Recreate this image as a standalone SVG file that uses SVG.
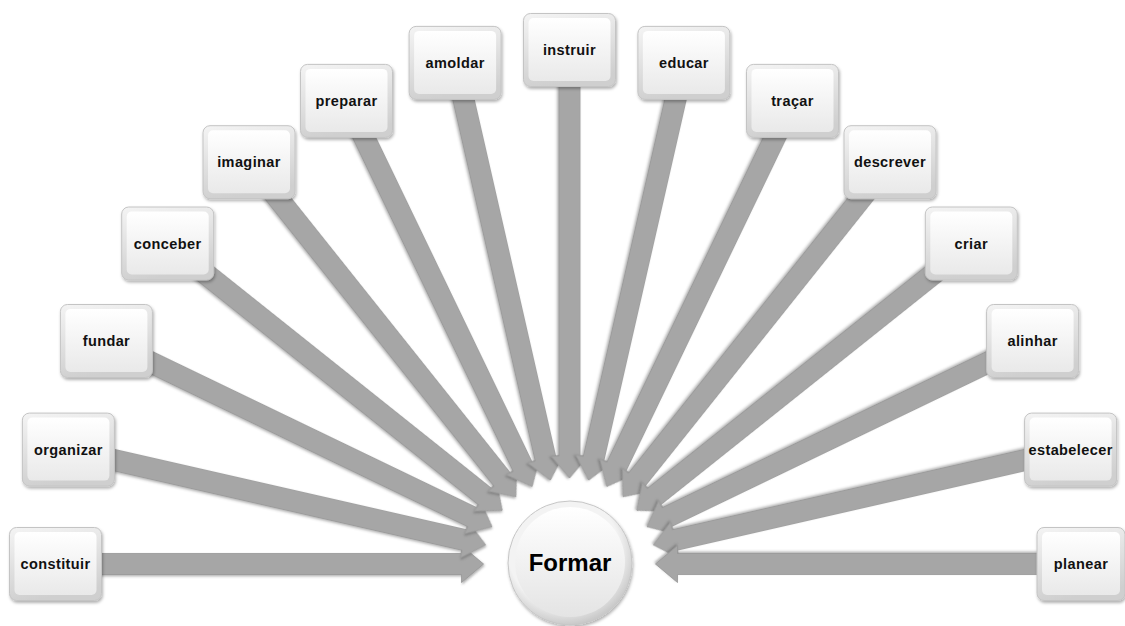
<svg xmlns="http://www.w3.org/2000/svg" width="1125" height="626" viewBox="0 0 1125 626">
<defs>
<style>
.lbl{font-family:"Liberation Sans",Arial,sans-serif;font-weight:bold;font-size:14.5px;letter-spacing:0.4px;fill:#111;text-anchor:middle}
.ttl{font-family:"Liberation Sans",Arial,sans-serif;font-weight:bold;font-size:24px;fill:#000;text-anchor:middle}
.arr{fill:#a6a6a6;stroke:#979797;stroke-width:0.8;filter:url(#ash)}
.bo{fill:url(#gOut);stroke:#c4c4c4;stroke-width:1;filter:url(#bsh)}
.bi{fill:url(#gIn)}
</style>
<linearGradient id="gOut" x1="0" y1="0" x2="0.25" y2="1">
<stop offset="0" stop-color="#f4f4f4"/><stop offset="1" stop-color="#cfcfcf"/>
</linearGradient>
<linearGradient id="gIn" x1="0" y1="0" x2="0" y2="1">
<stop offset="0" stop-color="#ffffff"/><stop offset="1" stop-color="#e9e9e9"/>
</linearGradient>
<radialGradient id="cOut" cx="0.45" cy="0.4" r="0.6">
<stop offset="0.75" stop-color="#f3f3f3"/><stop offset="1" stop-color="#c9c9c9"/>
</radialGradient>
<linearGradient id="cIn" x1="0" y1="0" x2="0" y2="1">
<stop offset="0" stop-color="#ffffff"/><stop offset="1" stop-color="#e4e4e4"/>
</linearGradient>
<filter id="ash" x="-10%" y="-50%" width="120%" height="200%">
<feDropShadow dx="1" dy="1.5" stdDeviation="0.8" flood-color="#555" flood-opacity="0.45"/>
</filter>
<filter id="bsh" x="-20%" y="-20%" width="140%" height="140%">
<feDropShadow dx="1" dy="2" stdDeviation="1.5" flood-color="#000" flood-opacity="0.3"/>
</filter>
<polygon id="arrow" class="arr" points="-514,-10.5 -108,-10.5 -108,-18.5 -86,0 -108,18.5 -108,10.5 -514,10.5"/>
</defs>
<rect width="1125" height="626" fill="#fff"/>
<g id="connectors">
<use href="#arrow" transform="translate(569.5,564) rotate(0)"/>
<use href="#arrow" transform="translate(569.5,564) rotate(12.857)"/>
<use href="#arrow" transform="translate(569.5,564) rotate(25.714)"/>
<use href="#arrow" transform="translate(569.5,564) rotate(38.571)"/>
<use href="#arrow" transform="translate(569.5,564) rotate(51.429)"/>
<use href="#arrow" transform="translate(569.5,564) rotate(64.286)"/>
<use href="#arrow" transform="translate(569.5,564) rotate(77.143)"/>
<use href="#arrow" transform="translate(569.5,564) rotate(90)"/>
<use href="#arrow" transform="translate(569.5,564) rotate(102.857)"/>
<use href="#arrow" transform="translate(569.5,564) rotate(115.714)"/>
<use href="#arrow" transform="translate(569.5,564) rotate(128.571)"/>
<use href="#arrow" transform="translate(569.5,564) rotate(141.429)"/>
<use href="#arrow" transform="translate(569.5,564) rotate(154.286)"/>
<use href="#arrow" transform="translate(569.5,564) rotate(167.143)"/>
<use href="#arrow" transform="translate(569.5,564) rotate(180)"/>
</g>
<g id="node-formar">
<circle cx="570" cy="563" r="62" fill="url(#cOut)" stroke="#c6c6c6" stroke-width="1" filter="url(#bsh)"/>
<circle cx="570" cy="562" r="55" fill="url(#cIn)"/>
<text class="ttl" x="570" y="571">Formar</text>
</g>
<g id="node-constituir" transform="translate(55.5,564)">
<rect class="bo" x="-46" y="-36.5" width="92" height="73" rx="7"/>
<rect class="bi" x="-41" y="-32" width="82" height="63" rx="5"/>
<text class="lbl" x="0" y="5">constituir</text>
</g>
<g id="node-organizar" transform="translate(68.4,449.6)">
<rect class="bo" x="-46" y="-36.5" width="92" height="73" rx="7"/>
<rect class="bi" x="-41" y="-32" width="82" height="63" rx="5"/>
<text class="lbl" x="0" y="5">organizar</text>
</g>
<g id="node-fundar" transform="translate(106.4,341)">
<rect class="bo" x="-46" y="-36.5" width="92" height="73" rx="7"/>
<rect class="bi" x="-41" y="-32" width="82" height="63" rx="5"/>
<text class="lbl" x="0" y="5">fundar</text>
</g>
<g id="node-conceber" transform="translate(167.7,243.5)">
<rect class="bo" x="-46" y="-36.5" width="92" height="73" rx="7"/>
<rect class="bi" x="-41" y="-32" width="82" height="63" rx="5"/>
<text class="lbl" x="0" y="5">conceber</text>
</g>
<g id="node-imaginar" transform="translate(249,162.2)">
<rect class="bo" x="-46" y="-36.5" width="92" height="73" rx="7"/>
<rect class="bi" x="-41" y="-32" width="82" height="63" rx="5"/>
<text class="lbl" x="0" y="5">imaginar</text>
</g>
<g id="node-preparar" transform="translate(346.5,100.9)">
<rect class="bo" x="-46" y="-36.5" width="92" height="73" rx="7"/>
<rect class="bi" x="-41" y="-32" width="82" height="63" rx="5"/>
<text class="lbl" x="0" y="5">preparar</text>
</g>
<g id="node-amoldar" transform="translate(455.1,62.9)">
<rect class="bo" x="-46" y="-36.5" width="92" height="73" rx="7"/>
<rect class="bi" x="-41" y="-32" width="82" height="63" rx="5"/>
<text class="lbl" x="0" y="5">amoldar</text>
</g>
<g id="node-instruir" transform="translate(569.5,50)">
<rect class="bo" x="-46" y="-36.5" width="92" height="73" rx="7"/>
<rect class="bi" x="-41" y="-32" width="82" height="63" rx="5"/>
<text class="lbl" x="0" y="5">instruir</text>
</g>
<g id="node-educar" transform="translate(683.9,62.9)">
<rect class="bo" x="-46" y="-36.5" width="92" height="73" rx="7"/>
<rect class="bi" x="-41" y="-32" width="82" height="63" rx="5"/>
<text class="lbl" x="0" y="5">educar</text>
</g>
<g id="node-tracar" transform="translate(792.5,100.9)">
<rect class="bo" x="-46" y="-36.5" width="92" height="73" rx="7"/>
<rect class="bi" x="-41" y="-32" width="82" height="63" rx="5"/>
<text class="lbl" x="0" y="5">traçar</text>
</g>
<g id="node-descrever" transform="translate(890,162.2)">
<rect class="bo" x="-46" y="-36.5" width="92" height="73" rx="7"/>
<rect class="bi" x="-41" y="-32" width="82" height="63" rx="5"/>
<text class="lbl" x="0" y="5">descrever</text>
</g>
<g id="node-criar" transform="translate(971.3,243.5)">
<rect class="bo" x="-46" y="-36.5" width="92" height="73" rx="7"/>
<rect class="bi" x="-41" y="-32" width="82" height="63" rx="5"/>
<text class="lbl" x="0" y="5">criar</text>
</g>
<g id="node-alinhar" transform="translate(1032.6,341)">
<rect class="bo" x="-46" y="-36.5" width="92" height="73" rx="7"/>
<rect class="bi" x="-41" y="-32" width="82" height="63" rx="5"/>
<text class="lbl" x="0" y="5">alinhar</text>
</g>
<g id="node-estabelecer" transform="translate(1070.6,449.6)">
<rect class="bo" x="-46" y="-36.5" width="92" height="73" rx="7"/>
<rect class="bi" x="-41" y="-32" width="82" height="63" rx="5"/>
<text class="lbl" x="0" y="5">estabelecer</text>
</g>
<g id="node-planear" transform="translate(1081,564)">
<rect class="bo" x="-44" y="-36.5" width="88" height="73" rx="7"/>
<rect class="bi" x="-39" y="-32" width="78" height="63" rx="5"/>
<text class="lbl" x="0" y="5">planear</text>
</g>
</svg>
